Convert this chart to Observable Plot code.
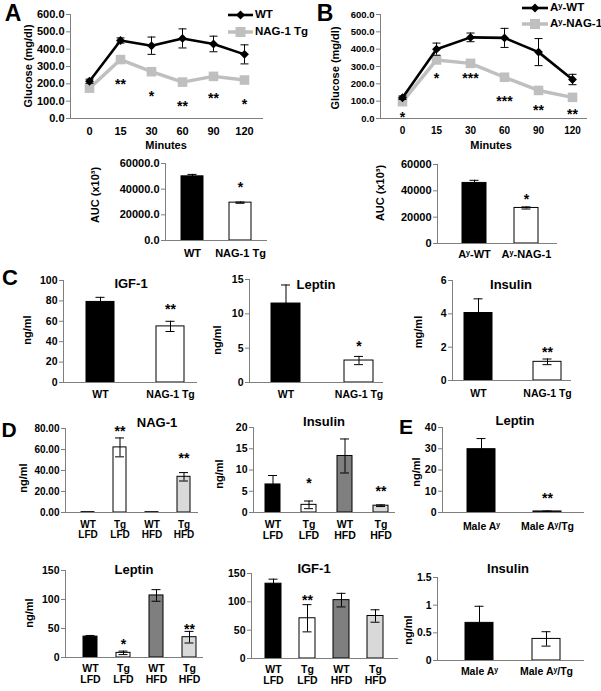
<!DOCTYPE html>
<html>
<head>
<meta charset="utf-8">
<script src="https://cdn.jsdelivr.net/npm/d3@7"></script>
<script src="https://cdn.jsdelivr.net/npm/@observablehq/plot@0.6"></script>
<style>
  html, body { margin: 0; padding: 0; background: #fff; }
  #root { position: relative; width: 601px; height: 691px; background: #fff; overflow: hidden;
          font-family: 'Liberation Sans', Arial, sans-serif; font-weight: bold; color: #000; }
  .lbl { position: absolute; white-space: nowrap; line-height: 1; }
</style>
</head>
<body>
<div id="root"></div>
<script>
// ---------------- DATA ----------------
const minutes = ["0", "15", "30", "60", "90", "120"];
// Panel A: glucose tolerance, WT vs NAG-1 Tg
const glucoseA_WT = [215, 450, 420, 462, 430, 370];
const glucoseA_WTerr = [12, 15, 50, 55, 45, 55];
const glucoseA_Tg = [175, 340, 270, 210, 243, 222];
const glucoseA_sig = ["", "**", "*", "**", "**", "*"];
const glucoseA_sigY = [null, 219, 150, 92, 138, 104];
// Panel B: glucose tolerance, Ay-WT vs Ay-NAG-1
const glucoseB_WT = [120, 400, 468, 465, 383, 225];
const glucoseB_WTerr = [10, 35, 25, 55, 78, 30];
const glucoseB_Tg = [97, 338, 318, 238, 162, 122];
const glucoseB_sig = ["*", "*", "***", "***", "**", "**"];
const glucoseB_sigY = [29, 254, 254, 121, 69, 46];
// AUC
const aucA_groups = ["WT", "NAG-1 Tg"];
const aucA_vals = [50000, 29500];
const aucA_err = [1500, 500];
const aucA_sig = ["", "*"];
const aucA_sigY = [null, 44400];
const aucB_groups = ["Aʸ-WT", "Aʸ-NAG-1"];
const aucB_vals = [46000, 27000];
const aucB_err = [2000, 800];
const aucB_sig = ["", "*"];
const aucB_sigY = [null, 36500];
// Panel C
const cGroups = ["WT", "NAG-1 Tg"];
const igf1C = [79, 55], igf1C_err = [4.5, 5], igf1C_sig = ["", "**"], igf1C_sigY = [null, 75];
const leptinC = [11.5, 3.2], leptinC_err = [2.7, 0.6], leptinC_sig = ["", "*"], leptinC_sigY = [null, 5.8];
const insulinC = [4.05, 1.12], insulinC_err = [0.85, 0.17], insulinC_sig = ["", "**"], insulinC_sigY = [null, 1.92];
// Panel D
const dGroups = ["WT\nLFD", "Tg\nLFD", "WT\nHFD", "Tg\nHFD"];
const nag1D = [0.3, 62, 0.3, 34], nag1D_err = [0, 9, 0, 4], nag1D_sig = ["", "**", "", "**"], nag1D_sigY = [null, 81, null, 55];
const insulinD = [6.6, 1.8, 13.3, 1.6], insulinD_err = [2.1, 0.9, 4, 0.2], insulinD_sig = ["", "*", "", "**"], insulinD_sigY = [null, 7.8, null, 5.9];
const leptinD = [36, 8, 107, 35], leptinD_err = [2, 3, 10, 10], leptinD_sig = ["", "*", "", "**"], leptinD_sigY = [null, 29, null, 55];
const igf1D = [132, 71, 103, 75], igf1D_err = [8, 24, 12, 11], igf1D_sig = ["", "**", "", ""], igf1D_sigY = [null, 109, null, null];
// Panel E
const eGroups = ["Male Aʸ", "Male Aʸ/Tg"];
const leptinE = [29.8, 0.5], leptinE_err = [5, 0.2], leptinE_sig = ["", "**"], leptinE_sigY = [null, 8.5];
const insulinE = [0.68, 0.39], insulinE_err = [0.3, 0.13], insulinE_sig = ["", ""], insulinE_sigY = [null, null];

// ---------------- STYLE / LAYOUT ----------------
const W = 601, H = 691;
const AXIS = "#7f7f7f";
const LIGHT = "#bfbfbf";
const FONT = "'Liberation Sans', Arial, sans-serif";
const twoFills = ["black", "white"];
const fourFills = ["black", "white", "#7f7f7f", "#d9d9d9"];
const root = document.getElementById("root");

// horizontal-dash symbol for error-bar caps on a point scale
const capSymbol = { draw(ctx, size) { const r = Math.sqrt(size / Math.PI); ctx.moveTo(-r, 0); ctx.lineTo(r, 0); } };

function frameMargins(f) {
  return { width: W, height: H, marginLeft: f.L, marginRight: W - f.R, marginTop: f.T, marginBottom: H - f.B };
}
function bandScale(L, R, c0, cN, n, w) {
  const step = (cN - c0) / (n - 1);
  const pi = 1 - w / step;
  const po = ((R - L) / step - n + pi) / 2;
  const leftover = (R - L) - step * (n - pi);
  const align = leftover > 0 ? (c0 - w / 2 - L) / leftover : 0.5;
  return { type: "band", paddingInner: pi, paddingOuter: po, align: Math.max(0, Math.min(1, align)) };
}
function pointScale(L, R, c0, cN, n) {
  const step = (cN - c0) / (n - 1);
  const padding = ((R - L) / step - (n - 1)) / 2;
  const leftover = (R - L) - step * (n - 1);
  return { type: "point", padding, align: Math.max(0, Math.min(1, (c0 - L) / leftover)) };
}
function svgStyle(fs) {
  return { position: "absolute", left: "0px", top: "0px", background: "transparent", overflow: "visible",
    fontFamily: FONT, fontSize: fs + "px", fontWeight: "bold", color: "black" };
}

function axesMarks(cfg) {
  return [
    Plot.ruleY([0], { stroke: AXIS }),
    Plot.frame({ anchor: "left", stroke: AXIS }),
    Plot.axisY({ ticks: cfg.ticks, tickFormat: cfg.fmt, tickSize: 4, tickPadding: 2, stroke: AXIS, label: null, fontSize: cfg.yfs || cfg.fs }),
    Plot.axisX({ tickSize: 0, tickPadding: cfg.xpad, lineHeight: 1.05, label: null })
  ];
}

function lineChart(cfg, wt, wtErr, tg, sig, sigY) {
  const rows = minutes.map((m, i) => ({ t: m, wt: wt[i], err: wtErr[i], tg: tg[i], sig: sig[i], sigY: sigY[i] }));
  const xs = pointScale(cfg.L, cfg.R, cfg.c0, cfg.cN, minutes.length);
  return Plot.plot({
    ...frameMargins(cfg),
    style: svgStyle(cfg.fs),
    x: { ...xs, domain: minutes, label: null },
    y: { domain: [0, 600], label: null },
    marks: [
      ...axesMarks(cfg),
      Plot.line(rows, { x: "t", y: "tg", stroke: LIGHT, strokeWidth: 3.5 }),
      Plot.dot(rows, { x: "t", y: "tg", symbol: "square", fill: LIGHT, r: 5.4 }),
      Plot.ruleX(rows, { x: "t", y1: d => d.wt - d.err, y2: d => d.wt + d.err, stroke: "black", strokeWidth: 1 }),
      Plot.dot(rows, { x: "t", y: d => d.wt + d.err, symbol: capSymbol, stroke: "black", strokeWidth: 1, r: 4 }),
      Plot.dot(rows, { x: "t", y: d => d.wt - d.err, symbol: capSymbol, stroke: "black", strokeWidth: 1, r: 4 }),
      Plot.line(rows, { x: "t", y: "wt", stroke: "black", strokeWidth: 2.6 }),
      Plot.dot(rows, { x: "t", y: "wt", symbol: "diamond2", fill: "black", r: 4 }),
      Plot.text(rows.filter(d => d.sig), { x: "t", y: "sigY", text: "sig", fontSize: 14, dy: 4 })
    ]
  });
}

function barChart(cfg, groups, vals, errs, sigs, sigYs, fills) {
  const rows = groups.map((g, i) => ({ g, v: vals[i], e: errs[i], s: sigs[i], sy: sigYs[i], fill: fills[i] }));
  const xs = bandScale(cfg.L, cfg.R, cfg.c0, cfg.cN, groups.length, cfg.w);
  const inset = Math.max(0, (cfg.w - 9) / 2);
  const withErr = rows.filter(r => r.e > 0);
  return Plot.plot({
    ...frameMargins(cfg),
    style: svgStyle(cfg.fs),
    x: { ...xs, domain: groups, label: null },
    y: { domain: [0, cfg.max], label: null },
    color: { type: "identity" },
    marks: [
      Plot.barY(rows, { x: "g", y: "v", fill: "fill", stroke: "black", strokeWidth: 1 }),
      Plot.ruleX(withErr, { x: "g", y1: r => r.v - r.e, y2: r => r.v + r.e, stroke: "black", strokeWidth: 1 }),
      Plot.tickY(withErr, { x: "g", y: r => r.v + r.e, stroke: "black", insetLeft: inset, insetRight: inset }),
      Plot.tickY(withErr, { x: "g", y: r => r.v - r.e, stroke: "black", insetLeft: inset, insetRight: inset }),
      Plot.text(rows.filter(r => r.s), { x: "g", y: "sy", text: "s", fontSize: 14, dy: 4 }),
      ...axesMarks(cfg)
    ]
  });
}

function addText(txt, x, y, size, rotate) {
  const d = document.createElement("div");
  d.className = "lbl";
  d.textContent = txt;
  d.style.left = x + "px";
  d.style.top = y + "px";
  d.style.fontSize = size + "px";
  d.style.transform = "translate(-50%,-50%)" + (rotate ? " rotate(" + rotate + "deg)" : "");
  root.appendChild(d);
}
function addLeftText(txt, x, y, size) {
  const d = document.createElement("div");
  d.className = "lbl";
  d.textContent = txt;
  d.style.left = x + "px";
  d.style.top = y + "px";
  d.style.fontSize = size + "px";
  d.style.transform = "translate(0,-50%)";
  root.appendChild(d);
}
function addLegend(x1, x2, y, kind, label) {
  const ns = "http://www.w3.org/2000/svg";
  const s = document.createElementNS(ns, "svg");
  s.setAttribute("width", x2 - x1 + 12);
  s.setAttribute("height", 16);
  s.style.position = "absolute";
  s.style.left = (x1 - 6) + "px";
  s.style.top = (y - 8) + "px";
  const ln = document.createElementNS(ns, "line");
  ln.setAttribute("x1", 6); ln.setAttribute("x2", x2 - x1 + 6);
  ln.setAttribute("y1", 8); ln.setAttribute("y2", 8);
  ln.setAttribute("stroke", kind === "wt" ? "black" : LIGHT);
  ln.setAttribute("stroke-width", kind === "wt" ? 2.6 : 3.5);
  s.appendChild(ln);
  const cx = (x2 - x1) / 2 + 6;
  if (kind === "wt") {
    const p = document.createElementNS(ns, "path");
    p.setAttribute("d", `M${cx},3.5L${cx + 4.5},8L${cx},12.5L${cx - 4.5},8Z`);
    p.setAttribute("fill", "black");
    s.appendChild(p);
  } else {
    const r = document.createElementNS(ns, "rect");
    r.setAttribute("x", cx - 5); r.setAttribute("y", 3); r.setAttribute("width", 10); r.setAttribute("height", 10);
    r.setAttribute("fill", LIGHT);
    s.appendChild(r);
  }
  root.appendChild(s);
  addLeftText(label, x2 + 2, y, 11.5);
}

// ---------------- DRAW ----------------
const fmt1 = d3.format(".1f"), fmt2 = d3.format(".2f"), fmtD = d => String(d);

root.appendChild(lineChart({ L: 70, R: 263, T: 14, B: 118, c0: 87, cN: 246, ticks: d3.range(0, 601, 100), fmt: fmt1, xpad: 8, fs: 11 },
  glucoseA_WT, glucoseA_WTerr, glucoseA_Tg, glucoseA_sig, glucoseA_sigY));
root.appendChild(lineChart({ L: 380, R: 587, T: 14, B: 118, c0: 400, cN: 574, ticks: d3.range(0, 601, 100), fmt: fmt1, xpad: 8, fs: 10, yfs: 9.5 },
  glucoseB_WT, glucoseB_WTerr, glucoseB_Tg, glucoseB_sig, glucoseB_sigY));

root.appendChild(barChart({ L: 165, R: 267, T: 163, B: 240, c0: 192, cN: 240, w: 22, max: 60000, ticks: [0, 20000, 40000, 60000], fmt: fmt1, xpad: 8, fs: 11 },
  aucA_groups, aucA_vals, aucA_err, aucA_sig, aucA_sigY, twoFills));
root.appendChild(barChart({ L: 437, R: 557, T: 164, B: 243, c0: 474, cN: 526, w: 24, max: 60000, ticks: [0, 20000, 40000, 60000], fmt: fmtD, xpad: 6, fs: 11 },
  aucB_groups, aucB_vals, aucB_err, aucB_sig, aucB_sigY, twoFills));

root.appendChild(barChart({ L: 63, R: 197, T: 280, B: 382, c0: 99.5, cN: 170, w: 28, max: 100, ticks: d3.range(0, 101, 20), fmt: fmtD, xpad: 8, fs: 10.5 },
  cGroups, igf1C, igf1C_err, igf1C_sig, igf1C_sigY, twoFills));
root.appendChild(barChart({ L: 249, R: 383, T: 279, B: 382, c0: 285, cN: 358, w: 29, max: 15, ticks: [0, 5, 10, 15], fmt: fmtD, xpad: 8, fs: 10.5 },
  cGroups, leptinC, leptinC_err, leptinC_sig, leptinC_sigY, twoFills));
root.appendChild(barChart({ L: 452, R: 571, T: 280, B: 380, c0: 478, cN: 547, w: 28, max: 6, ticks: [0, 2, 4, 6], fmt: fmtD, xpad: 9, fs: 10.5 },
  cGroups, insulinC, insulinC_err, insulinC_sig, insulinC_sigY, twoFills));

root.appendChild(barChart({ L: 65, R: 198, T: 428, B: 512, c0: 87, cN: 183, w: 13, max: 80, ticks: d3.range(0, 81, 20), fmt: fmt2, xpad: 8, fs: 10 },
  dGroups, nag1D, nag1D_err, nag1D_sig, nag1D_sigY, fourFills));
root.appendChild(barChart({ L: 253, R: 395, T: 427, B: 512, c0: 272, cN: 381, w: 15, max: 20, ticks: d3.range(0, 21, 5), fmt: fmtD, xpad: 8, fs: 10.5 },
  dGroups, insulinD, insulinD_err, insulinD_sig, insulinD_sigY, fourFills));
root.appendChild(barChart({ L: 442, R: 584, T: 427, B: 512, c0: 481, cN: 547, w: 28, max: 40, ticks: d3.range(0, 41, 10), fmt: fmtD, xpad: 10, fs: 10.5 },
  eGroups, leptinE, leptinE_err, leptinE_sig, leptinE_sigY, twoFills));

root.appendChild(barChart({ L: 65, R: 203, T: 570, B: 657, c0: 88, cN: 189.5, w: 14, max: 150, ticks: d3.range(0, 151, 50), fmt: fmtD, xpad: 7, fs: 10.5 },
  dGroups, leptinD, leptinD_err, leptinD_sig, leptinD_sigY, fourFills));
root.appendChild(barChart({ L: 251, R: 398, T: 573, B: 658, c0: 273, cN: 375, w: 16, max: 150, ticks: d3.range(0, 151, 50), fmt: fmtD, xpad: 7, fs: 10.5 },
  dGroups, igf1D, igf1D_err, igf1D_sig, igf1D_sigY, fourFills));
root.appendChild(barChart({ L: 437, R: 584, T: 577, B: 660, c0: 479, cN: 546, w: 28, max: 1.5, ticks: [0, 0.5, 1, 1.5], fmt: fmtD, xpad: 7, fs: 10.5 },
  eGroups, insulinE, insulinE_err, insulinE_sig, insulinE_sigY, twoFills));

// panel letters
addText("A", 13, 13, 23);
addText("B", 325, 13, 23);
addText("C", 10, 278, 22);
addText("D", 9, 429, 21);
addText("E", 406, 426, 21);
// axis titles
addText("Minutes", 166, 145, 11);
addText("Minutes", 491, 145, 11);
addText("Glucose (mg/dl)", 28, 66, 11, -90);
addText("Glucose (mg/dl)", 335, 68, 11, -90);
addText("AUC (x10³)", 95, 195, 11, -90);
addText("AUC (x10³)", 380, 193, 11, -90);
addText("ng/ml", 27, 330, 11, -90);
addText("ng/ml", 217, 340, 11, -90);
addText("mg/ml", 418, 332, 11, -90);
addText("ng/ml", 23, 478, 11, -90);
addText("ng/ml", 219, 474, 11, -90);
addText("ng/ml", 416, 472, 11, -90);
addText("ng/ml", 29, 613, 11, -90);
addText("ng/ml", 408, 630, 11, -90);
// panel titles
addText("IGF-1", 131, 283, 13);
addText("Leptin", 316, 284, 13);
addText("Insulin", 511, 284, 13);
addText("NAG-1", 157, 422, 13);
addText("Insulin", 324, 421, 13);
addText("Leptin", 515, 420, 13);
addText("Leptin", 134, 569, 13);
addText("IGF-1", 314, 568, 13);
addText("Insulin", 508, 568, 13);
// legends
addLegend(228, 253, 15, "wt", "WT");
addLegend(228, 253, 32, "tg", "NAG-1 Tg");
addLegend(522, 548, 8, "wt", "Aʸ-WT");
addLegend(522, 548, 24, "tg", "Aʸ-NAG-1");
</script>
</body>
</html>
